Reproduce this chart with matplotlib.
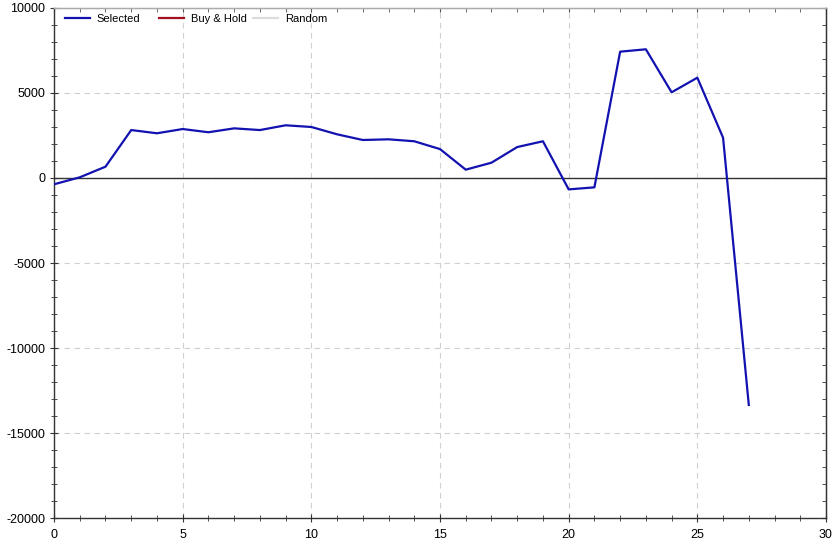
import matplotlib
matplotlib.use("Agg")
import matplotlib.pyplot as plt
from matplotlib.ticker import MultipleLocator

plt.rcParams['font.family'] = ['Liberation Sans', 'DejaVu Sans']
plt.rcParams['axes.unicode_minus'] = False

x_vals = list(range(28))
selected = [-370, 40, 665, 2820, 2630, 2880, 2690, 2920, 2820, 3100, 3000,
            2570, 2235, 2275, 2160, 1700, 490, 900, 1820, 2160, -670, -550,
            7430, 7570, 5040, 5900, 2370, -13350]
buy_hold = []
random_vals = []
series_names = ['Selected', 'Buy & Hold', 'Random']

fig = plt.figure(figsize=(8.39, 5.43), dpi=100)
ax = fig.add_axes([0.0644, 0.046, 0.9201, 0.9393])

l1, = ax.plot(x_vals, selected, color='#1212b0', lw=1.6, label=series_names[0], zorder=3)
l2, = ax.plot(x_vals[:len(buy_hold)], buy_hold, color='#a01020', lw=1.6, label=series_names[1])
l3, = ax.plot(x_vals[:len(random_vals)], random_vals, color='#dcdcdc', lw=1.6, label=series_names[2])
ax.axhline(0, color='#333333', lw=1.0, zorder=2)

ax.set_xlim(0, 30)
ax.set_ylim(-20000, 10000)
ax.xaxis.set_major_locator(MultipleLocator(5))
ax.xaxis.set_minor_locator(MultipleLocator(1))
ax.yaxis.set_major_locator(MultipleLocator(5000))
ax.yaxis.set_minor_locator(MultipleLocator(1000))
ax.grid(True, which='major', linestyle=(0, (5, 4)), color='#d0d0d0', lw=0.8)
ax.tick_params(which='both', direction='inout', top=False, right=False,
               labelsize=9, color='#333333')
ax.tick_params(which='major', length=6)
ax.tick_params(which='minor', length=4)
ax.tick_params(axis='x', pad=5)
for s in ax.spines.values():
    s.set_color('#333333')
    s.set_linewidth(1.0)
ax.spines['top'].set_color('#aaaaaa')

secx = ax.secondary_xaxis('top')
secx.xaxis.set_major_locator(MultipleLocator(5))
secx.xaxis.set_minor_locator(MultipleLocator(1))
secx.tick_params(which='both', direction='in', labeltop=False, color='#555555', length=3)
secx.spines['top'].set_color('#aaaaaa')

secy = ax.secondary_yaxis('right')
secy.yaxis.set_major_locator(MultipleLocator(5000))
secy.yaxis.set_minor_locator(MultipleLocator(1000))
secy.tick_params(which='both', direction='in', labelright=False, color='#333333', length=3)
secy.spines['right'].set_color('#333333')

legend_x = [0.0142, 0.136, 0.2577]
for i, (h, xa) in enumerate(zip([l1, l2, l3], legend_x)):
    leg = ax.legend([h], [h.get_label()], loc='upper left', bbox_to_anchor=(xa, 0.989),
                    frameon=False, fontsize=8, handlelength=2.25, handletextpad=0.6,
                    borderpad=0, borderaxespad=0)
    if i < 2:
        ax.add_artist(leg)

fig.savefig('out.png', dpi=100)
